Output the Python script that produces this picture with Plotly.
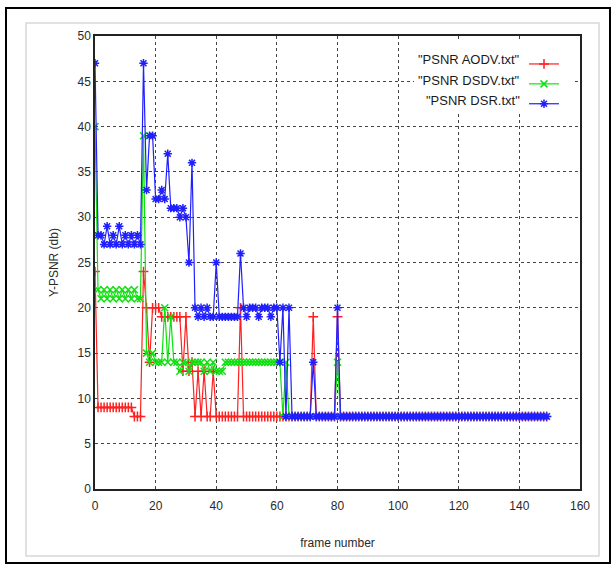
import plotly.graph_objects as go

frames = list(range(0, 150))

aodv = ([24] + [9] * 12 + [8, 8, 8] + [24]
        + [20, 14, 20, 20, 20, 19, 19, 19, 19, 19, 19, 19, 13, 19, 13, 14,
           8, 13, 8, 13, 8, 8, 13, 8]
        + [8] * 7 + [20] + [8] * 23 + [19] + [8] * 7 + [19] + [8] * 69)

dsdv = ([40] + [22, 21, 22, 21, 22, 21, 22, 21, 22, 21, 22, 21, 22, 21] + [21] + [39]
        + [15, 14, 15, 14, 14, 14, 20, 14, 19, 14]
        + [14, 13, 14, 14, 13, 14, 14, 14, 14, 13, 14, 13, 14, 13, 13, 13, 14]
        + [14] * 18 + [8, 14, 8] + [8] * 15 + [14] + [8] * 69)

dsr = ([47] + [28, 28, 27, 29, 27, 28, 27, 29, 27, 28, 27, 28, 27, 28, 27] + [47]
       + [33, 39, 39, 32, 32, 33, 32, 37, 31, 31, 31, 30, 31, 30, 25, 36]
       + [20, 19, 20, 19, 20, 19, 19, 25, 19, 19, 19, 19, 19, 19, 19, 26]
       + [20, 19, 20, 20, 20, 19, 20, 20, 20, 19, 20, 20]
       + [14, 20, 8, 20, 8] + [8] * 6 + [14] + [8] * 7 + [20] + [8] * 69)

names = ['"PSNR AODV.txt"', '"PSNR DSDV.txt"', '"PSNR DSR.txt"']
colors = ["#ff2020", "#10e010", "#2020ff"]
symbols = ["cross-thin-open", "x-thin-open", "asterisk-open"]
series = [aodv, dsdv, dsr]

x_ticks = [0, 20, 40, 60, 80, 100, 120, 140, 160]
y_ticks = [0, 5, 10, 15, 20, 25, 30, 35, 40, 45, 50]

fig = go.Figure()
for nm, col, sym, ys in zip(names, colors, symbols, series):
    fig.add_trace(go.Scatter(
        x=frames[:len(ys)], y=ys, mode="lines+markers", name=" ",
        line=dict(color=col, width=1.2),
        marker=dict(symbol=sym, size=7, color=col, line=dict(color=col, width=1.5)),
        hovertext=nm,
    ))

font_fam = "Liberation Sans, Arial, sans-serif"

def px_x(p):
    return (p - 95) / 485.0

def px_y(p):
    return (489 - p) / 453.0

shapes = [
    # outer black frame
    dict(type="rect", xref="paper", yref="paper", x0=px_x(6), x1=px_x(610),
         y0=px_y(563), y1=px_y(8), line=dict(color="black", width=2), layer="below"),
    # light gray inner frame
    dict(type="rect", xref="paper", yref="paper", x0=px_x(26), x1=px_x(599),
         y0=px_y(556), y1=px_y(23), line=dict(color="#d8d8d8", width=1.5), layer="below"),
    # legend white box
    dict(type="rect", xref="paper", yref="paper", x0=px_x(414), x1=px_x(572),
         y0=px_y(113), y1=px_y(39), line=dict(width=0), fillcolor="white", layer="above"),
]

annotations = []
for i, nm in enumerate(names):
    annotations.append(dict(
        xref="paper", yref="paper", x=px_x(522), y=px_y([59, 80, 101][i]),
        text=nm, showarrow=False, xanchor="right", yanchor="middle",
        font=dict(family=font_fam, size=13, color="#1a1a1a")))

fig.update_layout(
    width=614, height=567,
    margin=dict(l=95, r=34, t=36, b=78),
    paper_bgcolor="white", plot_bgcolor="white",
    font=dict(family=font_fam, size=12, color="#222222"),
    showlegend=True,
    legend=dict(x=px_x(524), y=px_y(49), xanchor="left", yanchor="top",
                bgcolor="rgba(0,0,0,0)", font=dict(size=13), tracegroupgap=0,
                itemwidth=30),
    shapes=shapes, annotations=annotations,
    xaxis=dict(range=[0, 160], tickvals=x_ticks, ticktext=[str(v) for v in x_ticks],
               showgrid=True, gridcolor="#444444", griddash="dot", gridwidth=1.3,
               showline=True, linecolor="#222222", linewidth=1.5, mirror=True,
               zeroline=False, ticks="", ticklabelstandoff=5,
               tickfont=dict(size=12, color="#2a2a2a"),
               title=dict(text="frame number", standoff=26,
                          font=dict(size=12, color="#2a2a2a"))),
    yaxis=dict(range=[0, 50], tickvals=y_ticks, ticktext=[str(v) for v in y_ticks],
               showgrid=True, gridcolor="#444444", griddash="dot", gridwidth=1.3,
               showline=True, linecolor="#222222", linewidth=1.5, mirror=True,
               zeroline=False, ticks="", tickfont=dict(size=12, color="#2a2a2a"),
               title=dict(text="Y-PSNR (db)", standoff=16,
                          font=dict(size=12, color="#2a2a2a"))),
)

fig.write_html("out.html", config={"displayModeBar": False},
               post_script="document.body.style.margin='0px';")
